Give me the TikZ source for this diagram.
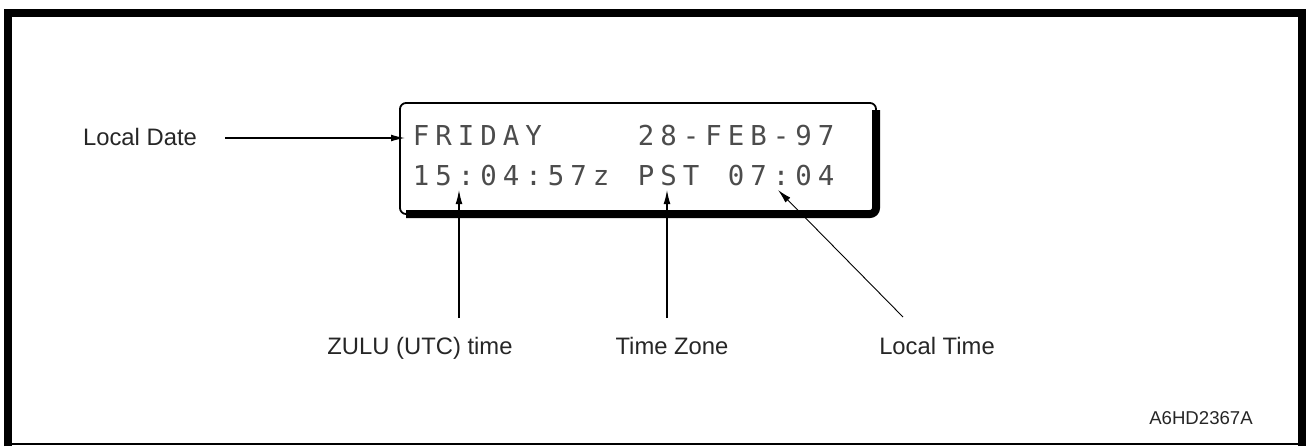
\documentclass[tikz,border=0pt]{standalone}
\usepackage{fontspec}
\setmainfont{Liberation Sans}
\newfontfamily\lcdfont{DejaVu Sans Mono}
\usetikzlibrary{arrows.meta}

\begin{document}
\begin{tikzpicture}[x=0.5pt, y=-0.5pt, >={Latex[length=7pt,width=3.4pt]},
    lbl/.style={font=\fontsize{11.9}{14}\selectfont, text=black!85, inner sep=0pt,
      text height=9pt, text depth=2.5pt},
    lcd/.style={font=\lcdfont\fontsize{13.7}{16}\selectfont, text=black!70,
      inner sep=0pt, anchor=base},
    pointer/.style={->, line width=0.6pt}]
    \useasboundingbox (0,0) rectangle (1306,446);
    % frame
    \draw[line width=4pt] (8,446) -- (8,12.5) -- (1302,12.5) -- (1302,446);
    \draw[line width=0.8pt] (8,444) -- (1302,444);

    % display window
    \draw[line width=0.9pt, rounded corners=3pt] (400,103) rectangle (876,214);
    \draw[line width=4pt, rounded corners=3pt] (876,110) -- (876,214) -- (406,214);

    \foreach \r/\y/\p/\s in {1/145/0/{F,R,I,D,A,Y}, 1/145/10/{2,8,-,F,E,B,-,9,7},
        2/185/0/{1,5,:,0,4,:,5,7,z}, 2/185/10/{P,S,T}, 2/185/14/{0,7,:,0,4}}
    {
        \foreach \c [count=\i from \p] in \s
            \node[lcd] (ch-\r-\i) at ({421+22.5*\i},\y) {\c};
    }

    % labels
    \node[lbl] (localdate) at (140,139) {Local Date};
    \node[lbl] (zulu) at (420,348) {ZULU (UTC) time};
    \node[lbl] (zone) at (672,348) {Time Zone};
    \node[lbl] (localtime) at (937,348) {Local Time};
    \node[lbl, font=\fontsize{9.3}{11}\selectfont] (code) at (1201,418) {A6HD2367A};

    \coordinate (datetip) at (405,138);
    \coordinate (zulutip) at (459,190);
    \coordinate (zonetip) at (667,190);
    \coordinate (localtip) at (778,190);
    \coordinate (localtail) at (903,317);

    \draw[pointer, shorten <=14pt] (localdate.east |- datetip) -- (datetip);
    \draw[pointer, shorten <=9pt] (zulutip |- zulu.north) -- (zulutip);
    \draw[pointer, shorten <=9pt] (zonetip |- zone.north) -- (zonetip);
    \draw[pointer, line width=0.45pt] (localtail) -- (localtip);

\end{tikzpicture}
\end{document}
